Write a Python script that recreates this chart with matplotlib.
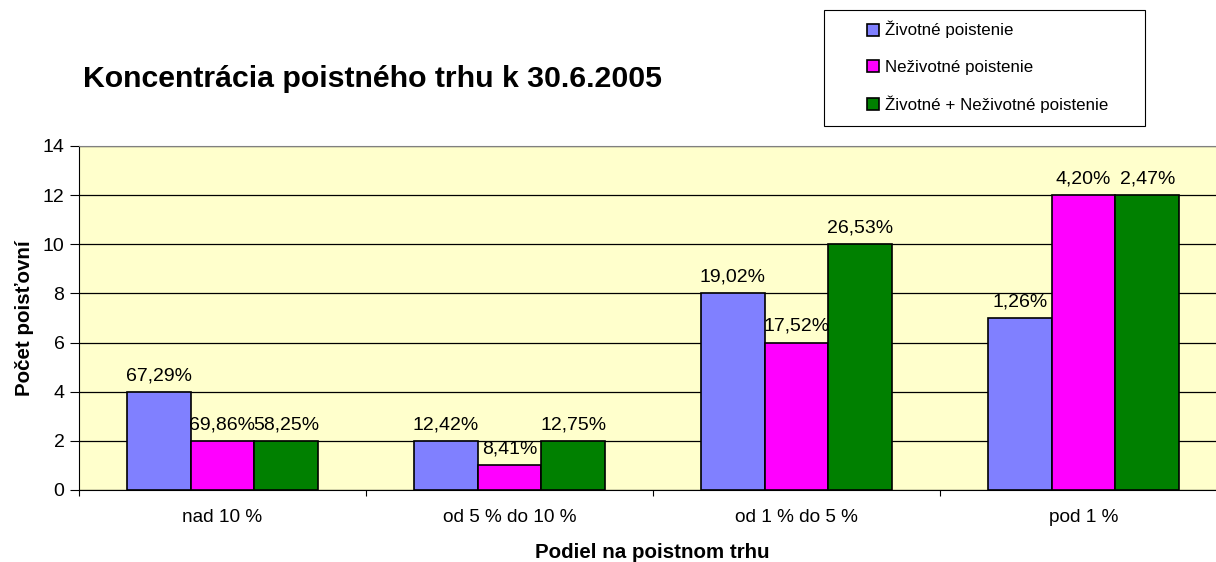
import matplotlib.pyplot as plt
from matplotlib.patches import Rectangle
import numpy as np

# %% Data

categories = ["nad 10 %", "od 5 % do 10 %", "od 1 % do 5 %", "pod 1 %"]
series_names = [
    "Životné poistenie",
    "Neživotné poistenie",
    "Životné + Neživotné poistenie",
]
life = [4, 2, 8, 7]
nonlife = [2, 1, 6, 12]
total = [2, 2, 10, 12]
life_labels = ["67,29%", "12,42%", "19,02%", "1,26%"]
nonlife_labels = ["69,86%", "8,41%", "17,52%", "4,20%"]
total_labels = ["58,25%", "12,75%", "26,53%", "2,47%"]

colors = ["#8080FF", "#FF00FF", "#008000"]

# %% Plot

plt.rcParams["font.family"] = ["Liberation Sans", "DejaVu Sans"]

W, H = 1216, 562
fig = plt.figure(figsize=(W / 100, H / 100), dpi=100)
ax = fig.add_axes([79 / W, 72 / H, 1148 / W, 344 / H])
ax.set_facecolor("#FFFFCC")

x = np.arange(len(categories))
width = 1 / 4.5
series = [life, nonlife, total]
labels = [life_labels, nonlife_labels, total_labels]
for i, (vals, labs) in enumerate(zip(series, labels)):
    pos = x + (i - 1) * width
    bars = ax.bar(pos, vals, width, color=colors[i], edgecolor="black",
                  linewidth=1.2, label=series_names[i], zorder=3)
    for b, lab in zip(bars, labs):
        ax.annotate(lab, (b.get_x() + b.get_width() / 2, b.get_height()),
                    xytext=(0, 5.5), textcoords="offset points",
                    ha="center", va="bottom", fontsize=14)

ax.set_xlim(-0.5, len(categories) - 0.5)
ax.set_ylim(0, 14)
ax.set_yticks(range(0, 15, 2))
ax.yaxis.grid(True, color="black", linewidth=0.9, zorder=0)

ax.set_xticks(np.arange(len(categories) + 1) - 0.5)
ax.set_xticklabels([])
ax.set_xticks(x, minor=True)
ax.set_xticklabels(categories, minor=True, fontsize=13.7)
ax.tick_params(axis="x", which="minor", length=0, pad=14)
ax.tick_params(axis="x", which="major", length=4.5, direction="out")
ax.tick_params(axis="y", length=6.5, pad=4, labelsize=14)

for side in ["top", "right"]:
    ax.spines[side].set_color("#808080")

ax.set_ylabel("Počet poisťovní", fontsize=14.8, fontweight="bold")
ax.yaxis.set_label_coords((24.5 - 79) / 1148, 0.5)
ax.yaxis.label.set_va("center")
ax.set_xlabel("Podiel na poistnom trhu", fontsize=14.8, fontweight="bold")
ax.xaxis.set_label_coords((652 - 79) / 1148, (490 - 553) / 344)
ax.xaxis.label.set_va("center")

fig.text(83 / W, 1 - 79 / H, "Koncentrácia poistného trhu k 30.6.2005",
         fontsize=21.8, fontweight="bold", va="center")

# legend box is wider than its content, so draw the frame separately
fig.patches.append(Rectangle((824 / W, 1 - 126 / H), 321 / W, 116 / H,
                             transform=fig.transFigure, facecolor="white",
                             edgecolor="black", linewidth=0.8, zorder=1))
leg = fig.legend(loc="upper left", bbox_to_anchor=(867 / W, 1 - 21 / H),
                 fontsize=12.2, frameon=False, borderpad=0,
                 labelspacing=1.25, handlelength=0.7, handleheight=0.7,
                 handletextpad=0.35, borderaxespad=0)
leg.set_zorder(2)

fig.savefig("out.png", dpi=100)
